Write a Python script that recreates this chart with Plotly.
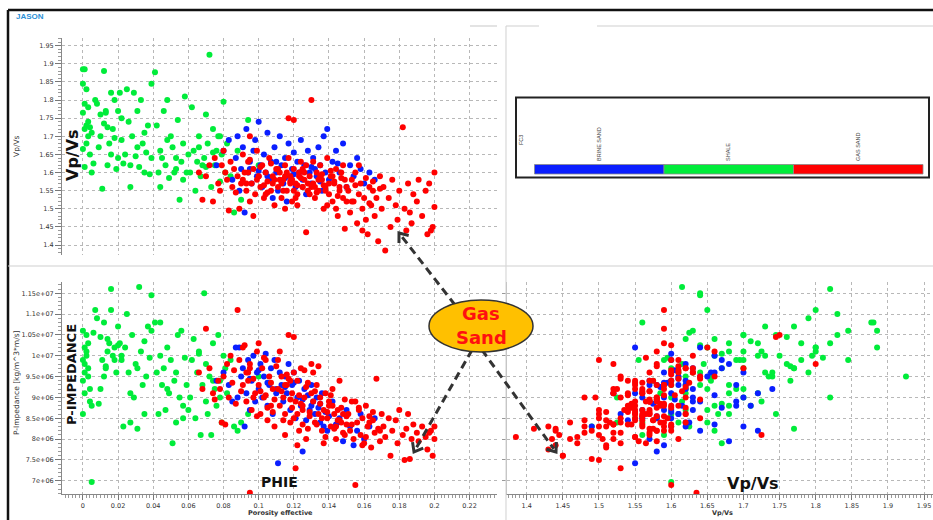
import math
import plotly.graph_objects as go

W, H = 933, 520

# ---------------- data ----------------
# Shale (green)
shale_phie = [
    0.000, 0.001, 0.000, 0.002, 0.001, 0.003, 0.000, 0.002, 0.004, 0.001,
    0.003, 0.005, 0.002, 0.000, 0.004, 0.006, 0.001, 0.003, 0.005, 0.007,
    0.008, 0.010, 0.011, 0.012, 0.013, 0.014, 0.015, 0.016, 0.016, 0.017,
    0.018, 0.019, 0.020, 0.009, 0.012, 0.014, 0.018, 0.020, 0.013, 0.021,
    0.022, 0.023, 0.024, 0.025, 0.026, 0.027, 0.028, 0.029, 0.030, 0.031,
    0.032, 0.033, 0.034, 0.035, 0.036, 0.037, 0.038, 0.039, 0.039, 0.022,
    0.027, 0.031, 0.035, 0.041, 0.042, 0.043, 0.044, 0.045, 0.046, 0.047,
    0.048, 0.049, 0.050, 0.051, 0.052, 0.053, 0.054, 0.055, 0.056, 0.057,
    0.058, 0.059, 0.060, 0.044, 0.048, 0.053, 0.057, 0.061, 0.062, 0.063,
    0.064, 0.065, 0.066, 0.067, 0.068, 0.069, 0.070, 0.071, 0.072, 0.073,
    0.074, 0.075, 0.076, 0.077, 0.078, 0.079, 0.080, 0.081, 0.082, 0.084,
    0.086, 0.088, 0.090, 0.094, 0.100, 0.070, 0.074, 0.078, 0.066, 0.010,
]
shale_vpvs = [
    1.885, 1.885, 1.845, 1.830, 1.790, 1.780, 1.765, 1.730, 1.725, 1.720,
    1.700, 1.600, 1.680, 1.665, 1.650, 1.625, 1.615, 1.740, 1.710, 1.800,
    1.790, 1.700, 1.555, 1.880, 1.770, 1.725, 1.680, 1.820, 1.650, 1.720,
    1.800, 1.610, 1.770, 1.670, 1.735, 1.620, 1.695, 1.640, 1.765, 1.820,
    1.690, 1.625, 1.650, 1.830, 1.740, 1.560, 1.700, 1.820, 1.645, 1.770,
    1.615, 1.800, 1.680, 1.600, 1.655, 1.730, 1.595, 1.845, 1.640, 1.750,
    1.620, 1.670, 1.710, 1.877, 1.730, 1.600, 1.660, 1.640, 1.770, 1.620,
    1.800, 1.585, 1.700, 1.670, 1.600, 1.610, 1.745, 1.525, 1.630, 1.680,
    1.810, 1.600, 1.650, 1.560, 1.690, 1.640, 1.580, 1.600, 1.780, 1.660,
    1.550, 1.630, 1.700, 1.590, 1.620, 1.640, 1.760, 1.680, 1.925, 1.560,
    1.720, 1.620, 1.660, 1.700, 1.575, 1.650, 1.795, 1.600, 1.680, 1.590,
    1.490, 1.660, 1.525, 1.745, 1.620, 1.615, 1.655, 1.700, 1.670, 1.760,
]
shale_pimp = [  # P-impedance in units of 1e6 kg/m^3*m/s
    10.6, 10.2, 9.9, 10.5, 9.6, 10.3, 9.4, 10.0, 8.9, 9.1,
    9.7, 6.97, 10.1, 8.6, 9.2, 10.55, 9.8, 9.5, 8.8, 11.1,
    10.9, 9.2, 9.9, 10.8, 9.7, 10.1, 10.3, 11.6, 11.1, 10.0,
    10.2, 9.6, 10.7, 8.85, 9.5, 10.4, 9.9, 10.25, 9.75, 10.3,
    9.9, 8.3, 10.2, 11.0, 9.6, 8.4, 10.5, 9.0, 9.8, 8.25,
    11.65, 10.1, 9.3, 8.6, 9.5, 10.7, 9.95, 10.6, 11.45, 10.0,
    9.1, 9.7, 10.35, 10.8, 9.6, 8.6, 10.0, 9.3, 9.7, 8.7,
    10.2, 9.1, 9.9, 7.9, 9.4, 8.4, 10.5, 9.0, 10.6, 8.8,
    9.95, 9.3, 8.7, 10.8, 9.2, 9.6, 8.5, 9.0, 9.9, 10.4,
    8.5, 9.6, 10.1, 8.1, 9.3, 11.5, 9.8, 8.6, 9.5, 8.1,
    10.3, 9.2, 8.8, 10.5, 9.4, 8.4, 10.0, 9.7, 9.1, 9.9,
    8.3, 8.2, 8.4, 8.6, 9.5, 8.9, 9.4, 9.0, 10.05, 10.45,
]

# Brine sand (blue)
brine_phie = [
    0.076, 0.080, 0.083, 0.085, 0.087, 0.088, 0.089, 0.090, 0.091, 0.092,
    0.093, 0.094, 0.095, 0.096, 0.097, 0.098, 0.099, 0.100, 0.101, 0.102,
    0.103, 0.104, 0.105, 0.106, 0.107, 0.108, 0.109, 0.110, 0.111, 0.112,
    0.113, 0.114, 0.115, 0.116, 0.117, 0.118, 0.119, 0.120, 0.121, 0.122,
    0.123, 0.124, 0.125, 0.126, 0.127, 0.128, 0.129, 0.130, 0.131, 0.132,
    0.133, 0.134, 0.135, 0.136, 0.137, 0.138, 0.139, 0.140, 0.142, 0.144,
    0.146, 0.148, 0.150, 0.152, 0.154, 0.156, 0.158, 0.160, 0.163, 0.166,
    0.095, 0.105, 0.115, 0.125, 0.135, 0.145, 0.110, 0.120, 0.130, 0.100,
]
brine_vpvs = [
    1.62, 1.66, 1.69, 1.58, 1.64, 1.70, 1.55, 1.61, 1.67, 1.49,
    1.72, 1.60, 1.63, 1.57, 1.66, 1.69, 1.59, 1.74, 1.62, 1.56,
    1.65, 1.60, 1.71, 1.58, 1.63, 1.53, 1.67, 1.60, 1.55, 1.70,
    1.62, 1.57, 1.64, 1.52, 1.68, 1.59, 1.61, 1.655, 1.56, 1.63,
    1.60, 1.69, 1.58, 1.62, 1.54, 1.66, 1.60, 1.57, 1.64, 1.61,
    1.59, 1.67, 1.62, 1.55, 1.70, 1.60, 1.72, 1.58, 1.63, 1.66,
    1.60, 1.68, 1.56, 1.62, 1.59, 1.64, 1.61, 1.57, 1.60, 1.58,
    1.61, 1.59, 1.585, 1.605, 1.575, 1.625, 1.63, 1.595, 1.615, 1.605,
]
brine_pimp = [
    9.4, 9.6, 9.3, 8.9, 10.2, 9.0, 10.2, 9.5, 9.7, 8.3,
    9.1, 9.9, 8.7, 9.4, 10.0, 8.9, 9.6, 9.2, 9.8, 9.0,
    9.5, 10.05, 8.8, 9.3, 9.7, 8.6, 9.9, 9.1, 7.42, 9.6,
    9.3, 8.9, 9.5, 9.1, 9.8, 8.7, 9.3, 9.6, 8.5, 9.0,
    9.4, 8.8, 7.7, 9.2, 8.45, 9.05, 8.7, 9.3, 8.9, 8.6,
    9.0, 8.75, 8.4, 9.1, 8.3, 8.65, 8.2, 8.55, 8.9, 8.35,
    8.5, 7.95, 8.7, 8.3, 7.85, 8.2, 8.6, 8.0, 8.3, 8.5,
    9.45, 9.35, 9.25, 8.95, 8.85, 8.4, 9.2, 9.35, 8.8, 9.65,
]

# Gas sand (red)
gas_phie = [
    0.066, 0.068, 0.070, 0.072, 0.074, 0.075, 0.077, 0.078, 0.080, 0.081,
    0.082, 0.083, 0.084, 0.085, 0.086, 0.087, 0.088, 0.089, 0.090, 0.079,
    0.091, 0.092, 0.093, 0.094, 0.095, 0.096, 0.097, 0.098, 0.099, 0.100,
    0.101, 0.102, 0.103, 0.104, 0.105, 0.106, 0.107, 0.108, 0.109, 0.110,
    0.091, 0.093, 0.095, 0.097, 0.099, 0.101, 0.103, 0.105, 0.107, 0.109,
    0.095, 0.100, 0.104, 0.108, 0.094,
    0.111, 0.112, 0.113, 0.114, 0.115, 0.116, 0.117, 0.118, 0.119, 0.120,
    0.121, 0.122, 0.123, 0.124, 0.125, 0.126, 0.127, 0.128, 0.129, 0.130,
    0.111, 0.113, 0.115, 0.117, 0.119, 0.121, 0.123, 0.125, 0.127, 0.129,
    0.112, 0.114, 0.116, 0.118, 0.120, 0.122, 0.124, 0.126, 0.128, 0.130,
    0.115, 0.120, 0.125, 0.118, 0.122,
    0.131, 0.132, 0.133, 0.134, 0.135, 0.136, 0.137, 0.138, 0.139, 0.140,
    0.141, 0.142, 0.143, 0.144, 0.145, 0.146, 0.147, 0.148, 0.149, 0.150,
    0.131, 0.133, 0.135, 0.137, 0.139, 0.141, 0.143, 0.145, 0.147, 0.149,
    0.132, 0.136, 0.140, 0.144, 0.148, 0.134, 0.138, 0.142, 0.146, 0.150,
    0.151, 0.152, 0.153, 0.154, 0.155, 0.156, 0.157, 0.158, 0.159, 0.160,
    0.161, 0.162, 0.163, 0.164, 0.165, 0.166, 0.167, 0.168, 0.169, 0.170,
    0.153, 0.157, 0.161, 0.165, 0.169, 0.155, 0.163, 0.159,
    0.171, 0.172, 0.174, 0.175, 0.176, 0.178, 0.179, 0.180, 0.182, 0.183,
    0.184, 0.185, 0.186, 0.187, 0.188, 0.190, 0.191, 0.193, 0.195, 0.196,
    0.198, 0.199, 0.200, 0.200, 0.197,
]
gas_vpvs = [
    1.60, 1.525, 1.59, 1.62, 1.52, 1.64, 1.57, 1.55, 1.66, 1.60,
    1.58, 1.495, 1.63, 1.56, 1.61, 1.545, 1.59, 1.50, 1.57, 1.62,
    1.58, 1.60, 1.55, 1.63, 1.52, 1.57, 1.61, 1.54, 1.66, 1.59,
    1.56, 1.62, 1.53, 1.60, 1.575, 1.64, 1.55, 1.59, 1.51, 1.61,
    1.65, 1.57, 1.635, 1.48, 1.58, 1.615, 1.565, 1.545, 1.625, 1.58,
    1.70, 1.59, 1.54, 1.57, 1.60,
    1.56, 1.60, 1.53, 1.58, 1.62, 1.55, 1.75, 1.59, 1.52, 1.61,
    1.57, 1.54, 1.60, 1.63, 1.56, 1.58, 1.435, 1.55, 1.59, 1.80,
    1.61, 1.57, 1.50, 1.64, 1.58, 1.53, 1.59, 1.56, 1.62, 1.54,
    1.58, 1.55, 1.60, 1.57, 1.745, 1.51, 1.585, 1.60, 1.57, 1.56,
    1.59, 1.55, 1.61, 1.575, 1.565,
    1.57, 1.53, 1.60, 1.55, 1.62, 1.58, 1.50, 1.56, 1.64, 1.54,
    1.59, 1.52, 1.57, 1.61, 1.48, 1.55, 1.60, 1.53, 1.58, 1.56,
    1.63, 1.545, 1.59, 1.565, 1.51, 1.605, 1.575, 1.535, 1.585, 1.445,
    1.56, 1.595, 1.57, 1.50, 1.62, 1.58, 1.55, 1.59, 1.56, 1.52,
    1.55, 1.49, 1.58, 1.52, 1.60, 1.46, 1.54, 1.57, 1.50, 1.53,
    1.585, 1.43, 1.56, 1.51, 1.575, 1.48, 1.53, 1.41, 1.555, 1.50,
    1.52, 1.62, 1.47, 1.55, 1.59, 1.565, 1.515, 1.44,
    1.56, 1.385, 1.53, 1.45, 1.58, 1.51, 1.47, 1.55, 1.725, 1.50,
    1.44, 1.57, 1.49, 1.46, 1.54, 1.52, 1.58, 1.48, 1.55, 1.43,
    1.44, 1.45, 1.60, 1.505, 1.57,
]
gas_pimp = [
    9.6, 9.2, 10.65, 9.7, 9.1, 8.95, 9.4, 9.2, 9.5, 8.35,
    9.8, 9.0, 10.0, 9.35, 9.65, 8.85, 11.1, 9.9, 9.15, 8.4,
    9.3, 10.25, 8.9, 9.6, 9.8, 8.7, 9.45, 9.1, 10.1, 9.3,
    8.6, 9.7, 9.0, 9.9, 8.45, 9.5, 8.8, 9.2, 8.3, 9.75,
    10.2, 9.6, 6.71, 9.0, 8.55, 9.15, 9.95, 8.75, 9.35, 8.95,
    9.7, 10.3, 9.05, 8.65, 9.4,
    9.2, 8.8, 9.5, 9.0, 8.6, 9.3, 10.5, 8.4, 9.1, 9.6,
    8.9, 9.4, 8.2, 9.7, 8.7, 9.0, 8.0, 9.35, 8.55, 9.8,
    9.9, 9.15, 8.1, 9.45, 8.75, 7.3, 9.05, 8.35, 9.25, 8.65,
    10.1, 8.45, 9.55, 8.95, 10.45, 7.85, 8.85, 9.65, 8.25, 9.1,
    9.3, 8.5, 8.8, 9.4, 8.6,
    8.9, 8.4, 9.3, 8.6, 9.0, 8.2, 8.7, 9.1, 8.5, 8.8,
    8.3, 9.2, 8.6, 8.0, 8.45, 9.4, 8.75, 8.15, 8.95, 8.55,
    9.6, 8.35, 8.85, 7.9, 8.65, 9.05, 8.25, 8.7, 8.4, 8.1,
    9.15, 8.5, 8.9, 8.3, 8.6, 9.75, 8.05, 8.8, 8.45, 8.35,
    8.6, 8.2, 8.9, 8.0, 6.9, 8.4, 8.7, 8.1, 8.5, 7.9,
    8.8, 8.3, 8.55, 7.8, 8.45, 8.15, 9.45, 8.25, 7.95, 8.6,
    8.35, 8.75, 8.05, 8.65, 8.2, 8.9, 8.4, 7.85,
    8.3, 8.05, 8.5, 7.6, 8.2, 8.45, 7.9, 8.7, 8.1, 7.5,
    8.25, 8.6, 7.52, 8.0, 8.35, 8.15, 7.95, 8.3, 8.05, 7.75,
    8.2, 7.6, 8.3, 8.0, 8.15,
]

facies_names = ["BRINE SAND", "SHALE", "GAS SAND"]
facies_colors = ["#0a1eff", "#00ec3a", "#ff0000"]

# tick values / labels
phie_ticks = [0, 0.02, 0.04, 0.06, 0.08, 0.10, 0.12, 0.14, 0.16, 0.18, 0.20, 0.22]
phie_labels = ["0", "0.02", "0.04", "0.06", "0.08", "0.1", "0.12", "0.14", "0.16", "0.18", "0.2", "0.22"]
vpvs_ticks = [1.4, 1.45, 1.5, 1.55, 1.6, 1.65, 1.7, 1.75, 1.8, 1.85, 1.9, 1.95]
vpvs_labels = ["1.4", "1.45", "1.5", "1.55", "1.6", "1.65", "1.7", "1.75", "1.8", "1.85", "1.9", "1.95"]
pimp_ticks = [7.0, 7.5, 8.0, 8.5, 9.0, 9.5, 10.0, 10.5, 11.0, 11.5]
pimp_labels = ["7e+06", "7.5e+06", "8e+06", "8.5e+06", "9e+06", "9.5e+06",
               "1e+07", "1.05e+07", "1.1e+07", "1.15e+07"]


def fx(x):
    return x / W


def fy(y):
    return 1 - y / H


fig = go.Figure()

series = [
    (shale_phie, shale_vpvs, shale_pimp, facies_colors[1]),
    (brine_phie, brine_vpvs, brine_pimp, facies_colors[0]),
    (gas_phie, gas_vpvs, gas_pimp, facies_colors[2]),
]
for ph, vv, pi, col in series:
    mk = dict(color=col, size=6, line=dict(width=0))
    fig.add_trace(go.Scatter(x=ph, y=vv, xaxis="x", yaxis="y", mode="markers",
                             marker=mk, showlegend=False, hoverinfo="skip"))
    fig.add_trace(go.Scatter(x=ph, y=pi, xaxis="x2", yaxis="y2", mode="markers",
                             marker=mk, showlegend=False, hoverinfo="skip"))
    fig.add_trace(go.Scatter(x=vv, y=pi, xaxis="x3", yaxis="y3", mode="markers",
                             marker=mk, showlegend=False, hoverinfo="skip"))

TF = dict(family="DejaVu Sans", size=6.5, color="#333333")
grid = dict(showgrid=True, gridcolor="#b8b8b8", griddash="dot", gridwidth=1, zeroline=False)

phie_range = [-0.0119, 0.2356]
pimp_range = [6.681, 11.771]

fig.update_layout(
    width=W, height=H,
    margin=dict(l=0, r=0, t=0, b=0),
    paper_bgcolor="white", plot_bgcolor="white",
    xaxis=dict(domain=[fx(62), fx(497)], range=phie_range, anchor="y",
               tickmode="array", tickvals=phie_ticks, showticklabels=False,
               ticks="", showline=False, **grid),
    yaxis=dict(domain=[fy(255), fy(38)], range=[1.3724, 1.9712], anchor="x",
               tickmode="array", tickvals=vpvs_ticks, ticktext=vpvs_labels,
               ticks="outside", ticklen=6, tickcolor="#777", tickfont=TF,
               showline=True, linecolor="#888", linewidth=1,
               minor=dict(ticks="outside", tick0=1.4, dtick=0.01, ticklen=3,
                          tickcolor="#999", showgrid=False),
               **grid),
    xaxis2=dict(domain=[fx(62), fx(497)], range=phie_range, anchor="y2",
                tickmode="array", tickvals=phie_ticks, ticktext=phie_labels,
                ticks="outside", ticklen=5, tickcolor="#777", tickfont=TF,
                showline=True, linecolor="#888", linewidth=1,
                minor=dict(ticks="outside", tick0=0, dtick=0.002, ticklen=3,
                           tickcolor="#999", showgrid=False),
                **grid),
    yaxis2=dict(domain=[fy(494), fy(282)], range=pimp_range, anchor="x2",
                tickmode="array", tickvals=pimp_ticks, ticktext=pimp_labels,
                ticks="outside", ticklen=6, tickcolor="#777", tickfont=TF,
                showline=True, linecolor="#888", linewidth=1,
                minor=dict(ticks="outside", tick0=7, dtick=0.1, ticklen=3,
                           tickcolor="#999", showgrid=False),
                **grid),
    xaxis3=dict(domain=[fx(507), 1.0], range=[1.3727, 1.9624], anchor="y3",
                tickmode="array", tickvals=vpvs_ticks, ticktext=vpvs_labels,
                ticks="outside", ticklen=5, tickcolor="#777", tickfont=TF,
                showline=True, linecolor="#888", linewidth=1,
                minor=dict(ticks="outside", tick0=1.4, dtick=0.005, ticklen=3,
                           tickcolor="#999", showgrid=False),
                **grid),
    yaxis3=dict(domain=[fy(494), fy(282)], range=pimp_range, anchor="x3",
                tickmode="array", tickvals=pimp_ticks, showticklabels=False,
                ticks="outside", ticklen=4, tickcolor="#999",
                showline=True, linecolor="#aaa", linewidth=1,
                **grid),
)

shapes = []


def pline(x0, y0, x1, y1, color, width, dash=None):
    d = dict(type="line", xref="paper", yref="paper",
             x0=fx(x0), y0=fy(y0), x1=fx(x1), y1=fy(y1),
             line=dict(color=color, width=width))
    if dash:
        d["line"]["dash"] = dash
    return d


def prect(x0, y0, x1, y1, fill, color, width):
    return dict(type="rect", xref="paper", yref="paper",
                x0=fx(x0), y0=fy(y1), x1=fx(x1), y1=fy(y0),
                fillcolor=fill, line=dict(color=color, width=width))


# frame and panel separators
shapes.append(pline(8, 10, W, 10, "#111", 2.5))
shapes.append(pline(8, 10, 8, H, "#111", 2.5))
shapes.append(pline(8, 266, W, 266, "#d0d0d0", 1.2))
shapes.append(pline(506, 26, 506, H, "#d8d8d8", 1.2))
shapes.append(pline(506, 26, 539, 26, "#d0d0d0", 1.2))
shapes.append(pline(597, 26, W, 26, "#d0d0d0", 1.2))
shapes.append(pline(470, 26, 497, 26, "#d0d0d0", 1.2))

# facies legend box
shapes.append(prect(516, 97.5, 929, 177.5, "white", "#222", 2))
seg_edges = [534.5, 664, 793.5, 923]
for i, col in enumerate(facies_colors):
    shapes.append(prect(seg_edges[i], 164.5, seg_edges[i + 1], 174, col, "#8a8a8a", 0.8))


def chevron(tipx, tipy, fromx, fromy, L=10, ang=38):
    dx, dy = fromx - tipx, fromy - tipy
    n = math.hypot(dx, dy)
    bx, by = dx / n, dy / n
    pts = []
    for s in (1, -1):
        a = math.radians(s * ang)
        rx = bx * math.cos(a) - by * math.sin(a)
        ry = bx * math.sin(a) + by * math.cos(a)
        pts.append((tipx + L * rx, tipy + L * ry))
    path = (f"M {fx(pts[0][0])},{fy(pts[0][1])} L {fx(tipx)},{fy(tipy)} "
            f"L {fx(pts[1][0])},{fy(pts[1][1])}")
    return dict(type="path", xref="paper", yref="paper", path=path,
                line=dict(color="#333", width=3))


arrows = [((455, 305), (399, 233)), ((472, 350), (414, 452)), ((482, 350), (556, 452))]
for (sx, sy), (tx, ty) in arrows:
    shapes.append(pline(sx, sy, tx + (sx - tx) * 0.03, ty + (sy - ty) * 0.03, "#333", 3, dash="8px,5px"))
    shapes.append(chevron(tx, ty, sx, sy))

# Gas Sand ellipse
shapes.append(dict(type="circle", xref="paper", yref="paper",
                   x0=fx(429), x1=fx(533), y0=fy(352), y1=fy(300),
                   fillcolor="#ffc000", line=dict(color="#333", width=1.5)))

fig.update_layout(shapes=shapes)

ann = []


def txt(x, y, s, size, color="#222", family="DejaVu Sans", angle=0, bold=False,
        xanchor="center", yanchor="middle"):
    ann.append(dict(x=fx(x), y=fy(y), xref="paper", yref="paper", text=s,
                    showarrow=False, textangle=angle, xanchor=xanchor, yanchor=yanchor,
                    font=dict(size=size, color=color, family=family,
                              weight="bold" if bold else "normal")))


txt(14, 17, "JASON", 8, color="#2b8fd6", family="Liberation Sans", bold=True, xanchor="left")
txt(16, 146, "Vp/Vs", 7.5, color="#333", angle=-90)
txt(16, 383, "P-Impedance [kg/m^3*m/s]", 7.5, color="#333", angle=-90)
txt(280, 513, "Porosity effective", 6.5, color="#333", bold=True)
txt(722, 513, "Vp/Vs", 6.5, color="#333", bold=True)

txt(72, 155, "Vp/Vs", 16, color="#111", family="DejaVu Sans", angle=-90, bold=True)
txt(71, 375, "P-IMPEDANCE", 13, color="#111", family="DejaVu Sans", angle=-90, bold=True)
txt(279, 482, "PHIE", 14, color="#111", family="DejaVu Sans", bold=True)
txt(753, 483, "Vp/Vs", 16, color="#111", family="DejaVu Sans", bold=True)

txt(481, 313, "Gas", 18, color="#ff1010", family="DejaVu Sans", bold=True)
txt(481, 337, "Sand", 18, color="#ff1010", family="DejaVu Sans", bold=True)

# legend labels (rotated)
txt(521, 140, "FC3", 5.5, color="#444", family="Liberation Sans", angle=-90)
label_x = [599, 728, 858]
for name, lx in zip(facies_names, label_x):
    txt(lx, 163, name, 5.5, color="#444", family="Liberation Sans", angle=-90,
        yanchor="bottom")

fig.update_layout(annotations=ann)

fig.write_html("out.html", config={"displayModeBar": False},
               post_script="document.body.style.margin='0';document.body.style.overflow='hidden';")
